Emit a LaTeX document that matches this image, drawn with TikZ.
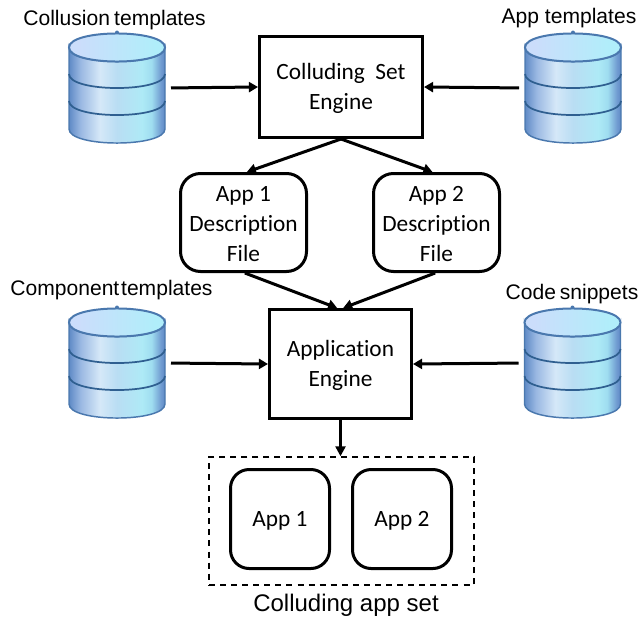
\documentclass[tikz,border=0pt]{standalone}
\usepackage{fontspec}
\setmainfont{Carlito}[Ligatures=NoCommon]
\newfontfamily\lblfont{Liberation Sans}
\usetikzlibrary{arrows.meta}
\definecolor{cylA}{HTML}{5F8AC6}
\definecolor{cylB}{HTML}{9AB8E2}
\definecolor{cylC}{HTML}{D5E8F8}
\definecolor{cylD}{HTML}{B9DDF3}
\definecolor{cylE}{HTML}{AEEAF6}
\definecolor{cylF}{HTML}{9FDDF0}
\definecolor{cylG}{HTML}{6F9AD0}
\definecolor{capA}{HTML}{CBDDFB}
\definecolor{capB}{HTML}{B0EEFA}
\definecolor{cylEdge}{HTML}{4A78AE}
\definecolor{cylBand}{HTML}{2F5F90}
\pgfdeclarehorizontalshading{cylbody}{100bp}{
  color(0bp)=(cylA); color(25bp)=(cylA); color(31bp)=(cylB); color(41bp)=(cylC); color(50bp)=(cylD);
  color(63bp)=(cylE); color(68bp)=(cylF); color(73bp)=(cylG); color(75bp)=(cylA); color(100bp)=(cylA)}
\pgfdeclarehorizontalshading{cyltop}{100bp}{
  color(0bp)=(capA); color(30bp)=(capA); color(70bp)=(capB); color(100bp)=(capB)}
\newcommand{\topgap}{\rule{0pt}{9.5pt}\\[-18pt]}
\tikzset{
  dbnode/.style={minimum width=72pt,minimum height=82.5pt,inner sep=0pt,outer sep=0pt},
  engbox/.style={draw,line width=2.25pt,align=center,font=\fontsize{17.5pt}{22.5pt}\selectfont,inner sep=0pt},
  descbox/.style={engbox,rounded corners=15pt},
  appbox/.style={engbox,rounded corners=14pt,minimum width=74.25pt,minimum height=74.25pt,text height=15pt,text depth=4pt},
  setbox/.style={draw,line width=1.1pt,dash pattern=on 4.5pt off 3.8pt,minimum width=198.75pt,minimum height=96pt},
  dblabel/.style={font=\lblfont\fontsize{15.8pt}{18pt}\selectfont,inner sep=0pt,text height=11.5pt,text depth=3.3pt},
  conn/.style={line width=2.25pt,-{Triangle[length=6.8pt,width=7.5pt]}},
  thinconn/.style={line width=1.8pt,-{Triangle[length=7.5pt,width=7.5pt]}}
}
\newcommand{\dbcyl}[1]{%
  \begin{scope}[shift={(#1.north west)}]
    \fill[color=cylEdge] (48,-0.5) circle[radius=2];
    \shade[shading=cylbody,draw=cylEdge,line width=1.1pt]
      (0,14.5) -- (0,96) .. controls (0,114.7) and (96,114.7) .. (96,96) -- (96,14.5)
      .. controls (96,33.2) and (0,33.2) .. (0,14.5) -- cycle;
    \shade[shading=cyltop,draw=cylEdge,line width=1.5pt]
      (0,14.5) .. controls (0,-4.2) and (96,-4.2) .. (96,14.5)
      .. controls (96,33.2) and (0,33.2) .. (0,14.5) -- cycle;
    \draw[cylBand,line width=1.3pt] (0,41) .. controls (0,59.7) and (96,59.7) .. (96,41);
    \draw[cylBand,line width=1.3pt] (0,68) .. controls (0,86.7) and (96,86.7) .. (96,68);
  \end{scope}}
\begin{document}
\begin{tikzpicture}[x=0.75pt,y=-0.75pt]
\useasboundingbox (0,0) rectangle (641,621);
\node[dbnode] (c1) at (117,88) {};
\node[dbnode] (c2) at (573,88) {};
\node[dbnode] (c3) at (117,363) {};
\node[dbnode] (c4) at (572.5,363) {};
\dbcyl{c1}\dbcyl{c2}\dbcyl{c3}\dbcyl{c4}

\node[dblabel] (l1) at (114.5,20) {Collusion\hspace{-1.2pt} templates};
\node[dblabel] (l2) at (569,18) {App templates};
\node[dblabel] (l3) at (111.5,290) {Component\hspace{-3pt} templates};
\node[dblabel] (l4) at (572,294) {Code\hspace{-1.5pt} snippets};

\node[engbox,minimum width=122.25pt,minimum height=75.75pt] (set) at (341,87) {\topgap Colluding\ \ Set\\Engine};
\node[descbox,minimum width=94.5pt,minimum height=73.5pt] (d1) at (243.5,222.5) {\topgap App 1\\Description\\File};
\node[descbox,minimum width=94.5pt,minimum height=73.5pt] (d2) at (436.5,222.5) {\topgap App 2\\Description\\File};
\node[engbox,minimum width=106.5pt,minimum height=81.75pt] (eng) at (340.5,364) {\topgap Application\\Engine};
\node[setbox] (grp) at (341.5,521) {};
\node[appbox] (a1) at (280,519) {App 1};
\node[appbox] (a2) at (402,519) {App 2};
\node[font=\lblfont\fontsize{18pt}{20pt}\selectfont,inner sep=0pt] (cap) at (346,605) {Colluding app set};

\draw[conn,shorten <=4.5pt] (c1.east) -- (set.west);
\draw[conn,shorten <=4.5pt] (c2.west) -- (set.east);
\draw[conn,shorten <=4.5pt] (c3.east) -- (eng.west);
\draw[conn,shorten <=4.5pt] (c4.west) -- (eng.east);
\draw[conn] (set.south) -- ([xshift=2.5pt]d1.north);
\draw[conn] (set.south) -- ([xshift=-3pt]d2.north);
\draw[conn] ([xshift=1pt]d1.south) -- ([xshift=-2.5pt]eng.north);
\draw[conn] ([xshift=-1pt]d2.south) -- ([xshift=2pt]eng.north);
\draw[thinconn] (eng.south) -- (eng.south |- grp.north);
\end{tikzpicture}
\end{document}
